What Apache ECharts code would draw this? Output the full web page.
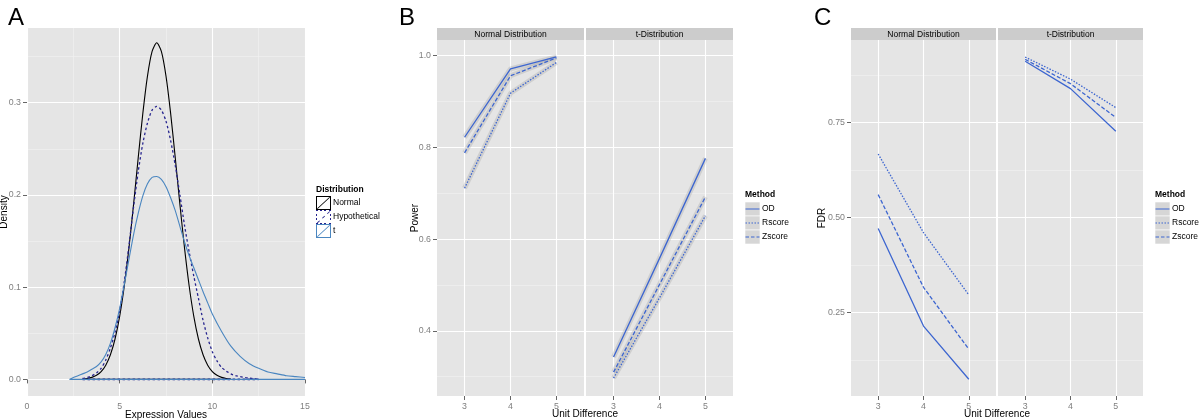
<!DOCTYPE html>
<html><head><meta charset="utf-8">
<script src="https://cdn.jsdelivr.net/npm/echarts@6/dist/echarts.min.js"></script>
<style>html,body{margin:0;padding:0;background:#fff}#c{width:1200px;height:420px}</style>
</head><body><div id="c"></div>
<script>
// ---------- Panel A: density curves ----------
const normalX = [3.0,3.25,3.5,3.75,4.0,4.25,4.5,4.75,5.0,5.25,5.5,5.75,6.0,6.25,6.5,6.75,7.0,7.25,7.5,7.75,8.0,8.25,8.5,8.75,9.0,9.25,9.5,9.75,10.0,10.25,10.5,10.75,11.0];
const normalY = [0.0005,0.0010,0.0022,0.0044,0.0084,0.0154,0.0267,0.0438,0.0684,0.1013,0.1423,0.1898,0.2402,0.2884,0.3288,0.3556,0.365,0.3556,0.3288,0.2884,0.2402,0.1898,0.1423,0.1013,0.0684,0.0438,0.0267,0.0154,0.0084,0.0044,0.0022,0.0010,0.0005];
const hypoX = [3.0,3.25,3.5,3.75,4.0,4.25,4.5,4.75,5.0,5.25,5.5,5.75,6.0,6.25,6.5,6.75,7.0,7.25,7.5,7.75,8.0,8.25,8.5,8.75,9.0,9.25,9.5,9.75,10.0,10.25,10.5,10.75,11.0,11.25,11.5,11.75,12.0,12.25,12.5];
const hypoY = [0.001,0.002,0.004,0.007,0.012,0.021,0.034,0.051,0.074,0.106,0.145,0.187,0.225,0.256,0.278,0.292,0.296,0.292,0.280,0.259,0.232,0.200,0.167,0.138,0.112,0.088,0.064,0.045,0.030,0.020,0.013,0.009,0.006,0.004,0.003,0.002,0.0013,0.0008,0.0004];
const tX = [2.3,2.5,2.75,3.0,3.25,3.5,3.75,4.0,4.25,4.5,4.75,5.0,5.25,5.5,5.75,6.0,6.25,6.5,6.75,7.0,7.25,7.5,7.75,8.0,8.25,8.5,8.75,9.0,9.25,9.5,9.75,10.0,10.5,11.0,11.5,12.0,12.5,13.0,13.5,14.0,14.5,15.0];
const tY = [0.0,0.002,0.004,0.006,0.008,0.011,0.014,0.019,0.027,0.039,0.056,0.077,0.103,0.130,0.157,0.180,0.199,0.212,0.219,0.220,0.217,0.209,0.197,0.183,0.166,0.149,0.134,0.121,0.108,0.095,0.083,0.071,0.052,0.036,0.025,0.017,0.012,0.008,0.006,0.004,0.003,0.002];
const aXTicks = [0,5,10,15];
const aXMinor = [2.5,7.5,12.5];
const aYTicks = [0,0.1,0.2,0.3];
const aYMinor = [0.05,0.15,0.25,0.35];

// ---------- Panels B and C ----------
const unitDiff = [3,4,5];
const powerNormOD = [0.822,0.971,0.997];
const powerNormR  = [0.711,0.918,0.985];
const powerNormZ  = [0.788,0.956,0.995];
const powerTOD = [0.343,0.558,0.776];
const powerTR  = [0.297,0.472,0.651];
const powerTZ  = [0.310,0.501,0.692];
const fdrNormOD = [0.471,0.214,0.074];
const fdrNormR  = [0.667,0.460,0.296];
const fdrNormZ  = [0.560,0.316,0.153];
const fdrTOD = [0.911,0.839,0.727];
const fdrTR  = [0.922,0.864,0.789];
const fdrTZ  = [0.916,0.852,0.763];
const bYTicks = [0.4,0.6,0.8,1.0];
const bYMinor = [0.3,0.5,0.7,0.9];
const cYTicks = [0.25,0.5,0.75];
const cYMinor = [0.125,0.375,0.625,0.875];
const facets = ['Normal Distribution','t-Distribution'];
const methods = ['OD','Rscore','Zscore'];
const distNames = ['Normal','Hypothetical','t'];

const FONT = 'Liberation Sans, Arial, Helvetica, sans-serif';
const AX = '#7f7f7f';
const BLUE = '#3d66d0';
function zip(xs, ys){ return xs.map((x,i)=>[x, ys[i]]); }

const grids = [
 {left:27, top:28, width:278, height:368},
 {left:437, top:40, width:147, height:356},
 {left:586, top:40, width:147, height:356},
 {left:851, top:40, width:145, height:356},
 {left:998, top:40, width:145, height:356}
].map(g => Object.assign(g, {show:true, backgroundColor:'#e5e5e5', borderWidth:0, containLabel:false, outerBoundsMode:'none'}));

function mainAxis(gridIndex, min, max, ticks, fmt, showLabels, extra){
  return Object.assign({
    type:'value', gridIndex, min, max,
    axisLine:{show:false},
    axisTick:{show:showLabels, length:4, lineStyle:{color:'#666', width:1}, customValues:ticks},
    axisLabel:{show:showLabels, customValues:ticks, color:AX, fontSize:8.8, margin:6, fontFamily:FONT, formatter: v=>fmt(v)},
    splitLine:{show:true, lineStyle:{color:'#ffffff', width:1.1}}
  }, extra||{});
}
function minorAxis(gridIndex, min, max, ticks){
  return {type:'value', gridIndex, min, max,
    axisLine:{show:false}, axisTick:{show:false, customValues:ticks},
    axisLabel:{show:false}, splitLine:{show:true, lineStyle:{color:'#f2f2f2', width:0.6}}};
}
const f1 = v => v.toFixed(1), f2 = v => v.toFixed(2), f0 = v => String(v);
const nameStyle = {color:'#000', fontSize:10, fontFamily:FONT};
function named(name, gap){ return {name, nameLocation:'middle', nameGap:gap, nameMoveOverlap:false, nameTextStyle:nameStyle}; }

const xAxis = [
  mainAxis(0, 0, 15, aXTicks, f0, true, named('Expression Values', 14.5)),
  mainAxis(1, 2.4, 5.6, unitDiff, f0, true),
  mainAxis(2, 2.4, 5.6, unitDiff, f0, true),
  mainAxis(3, 2.4, 5.6, unitDiff, f0, true),
  mainAxis(4, 2.4, 5.6, unitDiff, f0, true),
  minorAxis(0, 0, 15, aXMinor)
];
const yAxis = [
  mainAxis(0, -0.018, 0.381, aYTicks, f1, true, named('Density', 17.5)),
  mainAxis(1, 0.258, 1.034, bYTicks, f1, true, named('Power', 16.5)),
  mainAxis(2, 0.258, 1.034, bYTicks, f1, false),
  mainAxis(3, 0.03, 0.967, cYTicks, f2, true, named('FDR', 24)),
  mainAxis(4, 0.03, 0.967, cYTicks, f2, false),
  minorAxis(0, -0.018, 0.381, aYMinor),
  minorAxis(1, 0.258, 1.034, bYMinor),
  minorAxis(2, 0.258, 1.034, bYMinor),
  minorAxis(3, 0.03, 0.967, cYMinor),
  minorAxis(4, 0.03, 0.967, cYMinor)
];

const series = [];
function curve(name, xs, ys, color, width, type, z){
  series.push({name, type:'line', xAxisIndex:0, yAxisIndex:0, data:zip(xs, ys), smooth:0.25,
    symbol:'none', silent:true, z, lineStyle:{color, width, type}, itemStyle:{color}});
  series.push({name:name+' base', type:'line', xAxisIndex:0, yAxisIndex:0, data:[[xs[0],0],[xs[xs.length-1],0]],
    symbol:'none', silent:true, z, lineStyle:{color, width:width+0.3, type}, itemStyle:{color}});
}
curve(distNames[0], normalX, normalY, '#000000', 1.1, 'solid', 3);
curve(distNames[1], hypoX, hypoY, '#26248f', 1.3, [2.5,2.5], 4);
curve(distNames[2], tX, tY, '#4a86c0', 1.1, 'solid', 5);

const dashes = {OD:'solid', Rscore:[1.5,1.5], Zscore:[4,2]};
function facetLines(grid, vals, band){
  methods.forEach((m,i)=>{
    if (band) series.push({name:m+' band', type:'line', xAxisIndex:grid, yAxisIndex:grid, data:zip(unitDiff, vals[i]),
      symbol:'none', silent:true, z:1, lineStyle:{color:'rgba(150,150,150,0.28)', width:5}});
    series.push({name:m, type:'line', xAxisIndex:grid, yAxisIndex:grid, data:zip(unitDiff, vals[i]),
      symbol:'none', silent:true, z:3, lineStyle:{color:BLUE, width:1.3, type:dashes[m]}, itemStyle:{color:BLUE}});
  });
}
facetLines(1, [powerNormOD, powerNormR, powerNormZ], true);
facetLines(2, [powerTOD, powerTR, powerTZ], true);
facetLines(3, [fdrNormOD, fdrNormR, fdrNormZ], false);
facetLines(4, [fdrTOD, fdrTR, fdrTZ], false);

const solidKey = 'path://M0,0H15V1H0Z M0,13H15V14H0Z M0,0H1V14H0Z M14,0H15V14H14Z M1,12.4L13.4,1L14,1.6L1.6,13Z';
const hypoKey = 'path://M0,0H2V1H0Z M4,0H6V1H4Z M8,0H10V1H8Z M13,0H15V1H13Z M0,13H2V14H0Z M4,13H6V14H4Z M8,13H10V14H8Z M13,13H15V14H13Z M0,4H1V6H0Z M0,8H1V10H0Z M14,4H15V6H14Z M14,8H15V10H14Z M1,12.6L3.4,10.4L4,11L1.6,13.2Z M6,8L8.4,5.8L9,6.4L6.6,8.6Z M11,3.4L13.4,1.2L14,1.8L11.6,4Z';
const anchor = 'M0,0h0.01v0.01h-0.01Z M15,13.99h0.01v0.01h-0.01Z ';
const methodKeys = {
  OD: 'path://' + anchor + 'M0.5,6.4H14.5V7.6H0.5Z',
  Rscore: 'path://' + anchor + 'M0.5,6.4h1.5v1.2h-1.5Z M3.5,6.4h1.5v1.2h-1.5Z M6.5,6.4h1.5v1.2h-1.5Z M9.5,6.4h1.5v1.2h-1.5Z M12.5,6.4h1.5v1.2h-1.5Z',
  Zscore: 'path://' + anchor + 'M0.5,6.4h3.5v1.2h-3.5Z M6,6.4h3.5v1.2h-3.5Z M11.5,6.4h3v1.2h-3Z'
};

const legTxt = {fontSize:8.5, color:'#000', fontFamily:FONT, padding:[0,0,0,-3]};
const legend = [
  {data:[{name:distNames[0], icon:solidKey},{name:distNames[1], icon:hypoKey},{name:distNames[2], icon:solidKey}],
   orient:'vertical', left:316, top:196, itemWidth:15, itemHeight:14, itemGap:0, padding:0, selectedMode:false, textStyle:legTxt},
  {data:methods.map(m=>({name:m, icon:methodKeys[m]})), orient:'vertical', left:745, top:202, itemWidth:15, itemHeight:14, itemGap:0, padding:0, selectedMode:false, textStyle:legTxt},
  {data:methods.map(m=>({name:m, icon:methodKeys[m]})), orient:'vertical', left:1155, top:202, itemWidth:15, itemHeight:14, itemGap:0, padding:0, selectedMode:false, textStyle:legTxt}
];

const graphic = [];
function txt(x, y, text, size, extra){
  graphic.push({type:'text', x, y, silent:true, style:Object.assign({text, fontSize:size, fontFamily:FONT, fill:'#000', align:'left', verticalAlign:'top'}, extra||{})});
}
txt(8, 6, 'A', 24); txt(399, 6, 'B', 24); txt(814, 6, 'C', 24);
[[437,147,facets[0]],[586,147,facets[1]],[851,145,facets[0]],[998,145,facets[1]]].forEach(([x,w,t])=>{
  graphic.push({type:'rect', silent:true, shape:{x, y:28, width:w, height:12}, style:{fill:'#cccccc'}});
  txt(x+w/2, 34.5, t, 8.5, {align:'center', verticalAlign:'middle'});
});
txt(316, 190, 'Distribution', 8.5, {fontWeight:'bold', verticalAlign:'middle'});
txt(745, 195, 'Method', 8.5, {fontWeight:'bold', verticalAlign:'middle'});
txt(1155, 195, 'Method', 8.5, {fontWeight:'bold', verticalAlign:'middle'});
[745,1155].forEach(x=>[202,216,230].forEach(y=>{
  graphic.push({type:'rect', silent:true, z:-1, shape:{x, y, width:15, height:14}, style:{fill:'#d6d6d6', stroke:'#ffffff', lineWidth:0.6}});
}));
txt(585, 414, 'Unit Difference', 10, {align:'center', verticalAlign:'middle'});
txt(997, 414, 'Unit Difference', 10, {align:'center', verticalAlign:'middle'});

const chart = echarts.init(document.getElementById('c'), null, {renderer:'canvas'});
chart.setOption({
  animation:false,
  backgroundColor:'#ffffff',
  textStyle:{fontFamily:FONT},
  grid:grids, xAxis, yAxis, series, legend, graphic
});
</script>
</body></html>
